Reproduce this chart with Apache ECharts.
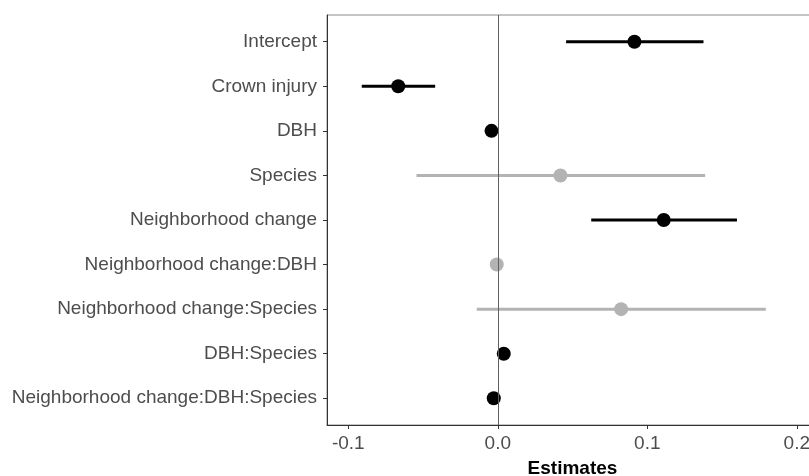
<!DOCTYPE html>
<html>
<head>
<meta charset="utf-8">
<script src="https://cdn.jsdelivr.net/npm/echarts@6/dist/echarts.min.js"></script>
<style>
html,body{margin:0;padding:0;background:#fff;}
#chart{width:809px;height:476px;}
</style>
</head>
<body>
<div id="chart"></div>
<script>
var categories = ["Intercept","Crown injury","DBH","Species","Neighborhood change","Neighborhood change:DBH","Neighborhood change:Species","DBH:Species","Neighborhood change:DBH:Species"];
var estimates = [0.0914, -0.0666, -0.0042, 0.0419, 0.1110, -0.0007, 0.0825, 0.0040, -0.0027];
var lower     = [0.0457, -0.0910, -0.0050, -0.0544, 0.0625, -0.0020, -0.0141, 0.0030, -0.0035];
var upper     = [0.1376, -0.0419, -0.0034, 0.1387, 0.1600, 0.0006, 0.1793, 0.0050, -0.0019];
var significant = [true, true, true, false, true, false, false, true, true];
var xTicks = [-0.1, 0.0, 0.1, 0.2];

var BLACK = '#000000', GREY = '#b3b3b3';
var FONT = 'Liberation Sans, Arial, sans-serif';
var yIdx = categories.map(function(c,i){return i+1;});

var barData = categories.map(function(c,i){
  return {value:[i+1, lower[i], upper[i]], itemStyle:{color: significant[i]?BLACK:GREY}};
});
var pointData = categories.map(function(c,i){
  return {value:[estimates[i], i+1], itemStyle:{color: significant[i]?BLACK:GREY, opacity:1}};
});

var chart = echarts.init(document.getElementById('chart'), null, {renderer:'canvas'});
chart.setOption({
  animation:false,
  backgroundColor:'#ffffff',
  grid:{left:327, top:15, width:491, height:410, show:true, borderColor:'#8a8a8a', borderWidth:1,
        containLabel:false, outerBoundsMode:'none'},
  xAxis:{
    type:'value', min:-0.11425, max:0.2142,
    name:'Estimates', nameLocation:'middle', nameGap:34,
    nameTextStyle:{color:'#000', fontSize:19, fontWeight:'bold', fontFamily:FONT},
    axisLine:{show:true, onZero:false, lineStyle:{color:'#333', width:1}},
    axisTick:{show:true, length:4, customValues:xTicks, lineStyle:{color:'#333'}},
    axisLabel:{show:true, customValues:xTicks, margin:9, color:'#4d4d4d', fontSize:19, fontFamily:FONT,
      formatter:function(v){return v.toFixed(1);}},
    splitLine:{show:false}
  },
  yAxis:{
    type:'value', inverse:true, min:0.4, max:9.6,
    axisLine:{show:true, onZero:false, lineStyle:{color:'#333', width:1}},
    axisTick:{show:true, length:4, customValues:yIdx, lineStyle:{color:'#333'}},
    axisLabel:{show:true, customValues:yIdx, margin:10, color:'#4d4d4d', fontSize:19, fontFamily:FONT,
      formatter:function(v){return categories[Math.round(v)-1] || '';}},
    splitLine:{show:false}
  },
  series:[
    {
      type:'custom', z:2,
      encode:{x:[1,2], y:0},
      renderItem:function(params, api){
        var y = api.value(0);
        var p1 = api.coord([api.value(1), y]);
        var p2 = api.coord([api.value(2), y]);
        return {type:'line', shape:{x1:p1[0], y1:p1[1], x2:p2[0], y2:p2[1]},
          style:{stroke: api.visual('color'), lineWidth:3}};
      },
      data:barData,
      markLine:{silent:true, symbol:['none','none'], label:{show:false},
        lineStyle:{color:'#5f5f5f', width:1, type:'solid'},
        data:[{xAxis:0}]}
    },
    {
      type:'scatter', z:3, symbol:'circle', symbolSize:14,
      itemStyle:{opacity:1},
      data:pointData
    }
  ]
});
</script>
</body>
</html>
